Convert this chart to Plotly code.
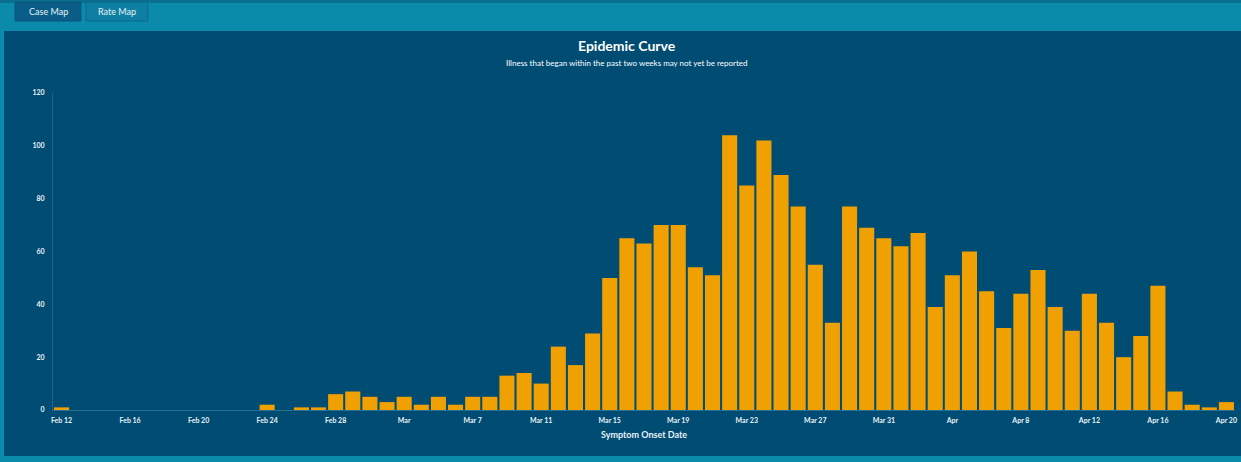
import plotly.graph_objects as go
import pandas as pd

# Data: daily case counts by symptom onset date (Feb 12 - Apr 20, 2020)
start_date = "2020-02-12"
end_date = "2020-04-20"
case_counts = [1, 0, 0, 0, 0, 0, 0, 0, 0, 0, 0, 0, 2, 0, 1, 1, 6, 7, 5, 3,
               5, 2, 5, 2, 5, 5, 13, 14, 10, 24, 17, 29, 50, 65, 63, 70, 70, 54, 51, 104,
               85, 102, 89, 77, 55, 33, 77, 69, 65, 62, 67, 39, 51, 60, 45, 31, 44, 53, 39, 30,
               44, 33, 20, 28, 47, 7, 2, 1, 3]
dates = pd.date_range(start_date, end_date, freq="D")

tick_dates = ["2020-02-12", "2020-02-16", "2020-02-20", "2020-02-24", "2020-02-28",
              "2020-03-03", "2020-03-07", "2020-03-11", "2020-03-15", "2020-03-19",
              "2020-03-23", "2020-03-27", "2020-03-31", "2020-04-04", "2020-04-08",
              "2020-04-12", "2020-04-16", "2020-04-20"]
tick_labels = ["Feb 12", "Feb 16", "Feb 20", "Feb 24", "Feb 28", "Mar", "Mar 7",
               "Mar 11", "Mar 15", "Mar 19", "Mar 23", "Mar 27", "Mar 31", "Apr",
               "Apr 8", "Apr 12", "Apr 16", "Apr 20"]
y_ticks = [0, 20, 40, 60, 80, 100, 120]

PANEL = "#004c73"
TEAL = "#0b8aab"
BAR = "#f0a000"

fig = go.Figure()
fig.add_trace(go.Bar(
    x=dates, y=case_counts,
    marker=dict(color=BAR, line=dict(width=0)),
    hoverinfo="x+y",
))

plot_h = 462 - 93 - 52
plot_w = 1241 - 53 - 4


def py(pix):
    return (462 - 52 - pix) / plot_h


def px(pix):
    return (pix - 53) / plot_w


shapes = [
    dict(type="rect", xref="paper", yref="paper", x0=px(-5), x1=px(1250), y0=py(31), y1=py(-5),
         fillcolor=TEAL, line_width=0, layer="below"),
    dict(type="rect", xref="paper", yref="paper", x0=px(-5), x1=px(1250), y0=py(3), y1=py(-5),
         fillcolor="#0a6f8e", line_width=0, layer="below"),
    dict(type="rect", xref="paper", yref="paper", x0=px(-5), x1=px(4), y0=py(470), y1=py(31),
         fillcolor=TEAL, line_width=0, layer="below"),
    dict(type="rect", xref="paper", yref="paper", x0=px(-5), x1=px(1250), y0=py(470), y1=py(456),
         fillcolor=TEAL, line_width=0, layer="below"),
    dict(type="rect", xref="paper", yref="paper", x0=px(15), x1=px(81), y0=py(21), y1=py(2),
         fillcolor="#0a5d86", line=dict(color="#0a5478", width=1), layer="below"),
    dict(type="rect", xref="paper", yref="paper", x0=px(86), x1=px(148), y0=py(21), y1=py(2),
         fillcolor="#0e7ea3", line=dict(color="#0a6a8c", width=1), layer="below"),
]

annotations = [
    dict(text="Case Map", xref="paper", yref="paper", x=px(48), y=py(11), showarrow=False,
         font=dict(family="Lato", size=9, color="#e6f2f7"), xanchor="center", yanchor="middle"),
    dict(text="Rate Map", xref="paper", yref="paper", x=px(117), y=py(11), showarrow=False,
         font=dict(family="Lato", size=9, color="#e6f2f7"), xanchor="center", yanchor="middle"),
    dict(text="<b>Epidemic Curve</b>", xref="paper", yref="paper", x=px(628), y=py(45), showarrow=False,
         font=dict(family="Lato", size=14, color="#ffffff"), xanchor="center", yanchor="middle"),
    dict(text="Illness that began within the past two weeks may not yet be reported", xref="paper", yref="paper",
         x=px(628), y=py(63), showarrow=False,
         font=dict(family="Lato", size=8, color="#ffffff"), xanchor="center", yanchor="middle"),
]

fig.update_layout(
    width=1241, height=462,
    margin=dict(l=53, r=4, t=93, b=52),
    paper_bgcolor=PANEL, plot_bgcolor=PANEL,
    bargap=0.12,
    showlegend=False,
    shapes=shapes,
    annotations=annotations,
    xaxis=dict(
        type="date",
        range=["2020-02-11 12:00", "2020-04-20 12:00"],
        tickvals=tick_dates, ticktext=tick_labels,
        tickfont=dict(family="Lato", size=7, color="#e8f2f7", weight="bold"),
        showgrid=False, zeroline=False,
        showline=True, linecolor="#2a6f93", linewidth=1,
        ticks="", ticklabelstandoff=4,
        title=dict(text="<b>Symptom Onset Date</b>", font=dict(family="Lato", size=9, color="#e8f2f7"),
                   standoff=8),
    ),
    yaxis=dict(
        range=[0, 120],
        tickvals=y_ticks,
        tickfont=dict(family="Lato", size=7, color="#e8f2f7", weight="bold"),
        showgrid=False, zeroline=False,
        showline=True, linecolor="#1e6488", linewidth=1,
        ticks="", ticklabelstandoff=6,
    ),
)

fig.write_html(
    "out.html",
    config={"displayModeBar": False},
    post_script="document.body.style.margin='0';document.body.style.padding='0';"
                "document.body.style.background='#004c73';",
)
